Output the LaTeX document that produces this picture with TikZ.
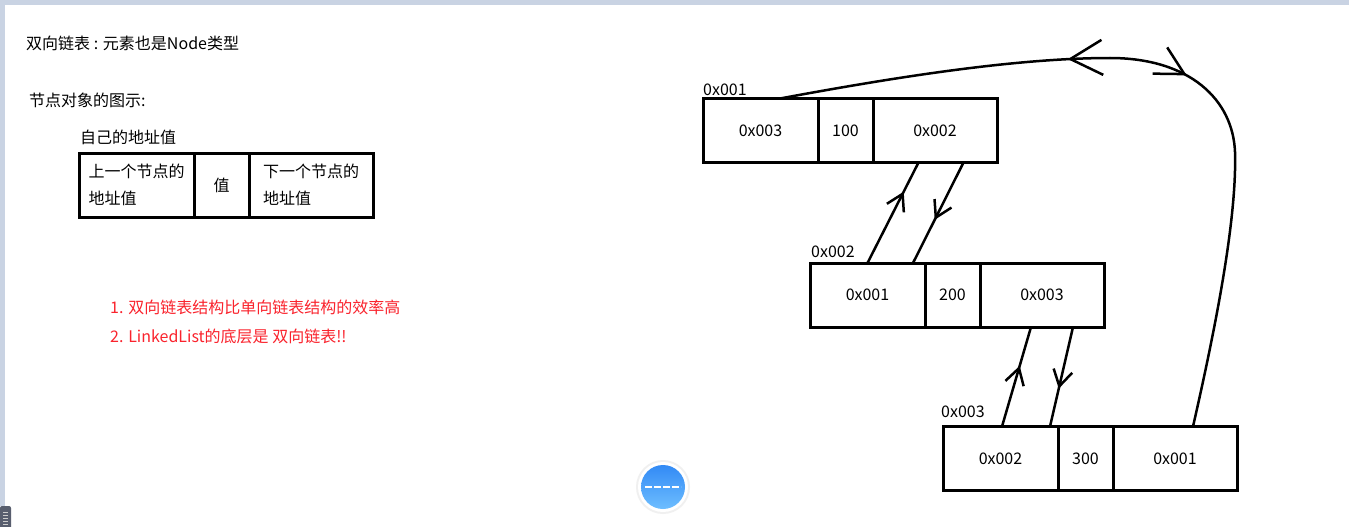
\documentclass[tikz,border=0pt]{standalone}
\usepackage{fontspec}
\setmainfont{Noto Sans CJK SC}
\usetikzlibrary{positioning}
\usetikzlibrary {arrows.meta}
\usetikzlibrary{decorations.markings}
\definecolor{notered}{RGB}{250,35,45}
\definecolor{framegray}{RGB}{201,211,227}
\definecolor{bardark}{RGB}{88,94,110}
\tikzset{cell/.style={rectangle,draw=black,fill=white,line width=3pt,
inner sep=0pt,outer sep=0pt,minimum height=64pt,align=left,
font=\fontsize{16pt}{27pt}\selectfont}}
\tikzset{prevcell/.style={cell,minimum width=115pt}}
\tikzset{valcell/.style={cell,minimum width=55pt}}
\tikzset{nextcell/.style={cell,minimum width=124pt}}
\tikzset{plain/.style={inner sep=0pt,anchor=west,font=\fontsize{16pt}{19pt}\selectfont}}
\tikzset{addr/.style={inner sep=0pt,anchor=south west,font=\fontsize{16pt}{19pt}\selectfont}}
\tikzset{link/.style={line width=2.5pt}}
\tikzset{midtip/.style={postaction={decorate},decoration={markings,
mark=at position #1 with {\arrow{Straight Barb[length=16pt,width=19pt]}}}}}

\begin{document}
\begin{tikzpicture}[x=1pt,y=-1pt]
    \useasboundingbox (0,0) rectangle (1349,527);
    \fill[white] (0,0) rectangle (1349,527);
    \fill[framegray] (0,0) rectangle (1349,5);
    \fill[framegray] (0,0) rectangle (5,506);
    \fill[bardark,rounded corners=2pt] (0,506) rectangle (11,530);
    \foreach \y in {512,515,...,524} \draw[gray!40,line width=0.8pt] (3,\y) -- (8,\y);

    % legend on the left
    \node[plain] (title) at (26,43) {双向链表 : 元素也是Node类型};
    \node[plain] (legend) at (29,100) {节点对象的图示:};
    \node[plain] (selfaddr) at (80,137) {自己的地址值};

    \node[prevcell] (tblA) at (136.5,185) {上一个节点的\\地址值};
    \node[valcell] (tblAval) [right=0pt of tblA] {值};
    \node[nextcell] (tblAnext) [right=0pt of tblAval] {下一个节点的\\地址值};

    \node[plain,text=notered] (noteA) at (110,307) {1. 双向链表结构比单向链表结构的效率高};
    \node[plain,text=notered] (noteB) at (110,336) {2. LinkedList的底层是 双向链表!!};

    % the three nodes of the list
    \node[prevcell] (boxA) at (760.5,130.5) {0x003};
    \node[valcell] (boxAval) [right=0pt of boxA] {100};
    \node[nextcell] (boxAnext) [right=0pt of boxAval] {0x002};
    \node[addr] (boxAaddr) at ([yshift=3pt]boxA.north west) {0x001};

    \node[prevcell] (boxB) at (867.5,295) {0x001};
    \node[valcell] (boxBval) [right=0pt of boxB] {200};
    \node[nextcell] (boxBnext) [right=0pt of boxBval] {0x003};
    \node[addr] (boxBaddr) at ([yshift=5pt,xshift=1pt]boxB.north west) {0x002};

    \node[prevcell] (boxC) at (1000.5,458.5) {0x002};
    \node[valcell] (boxCval) [right=0pt of boxC] {300};
    \node[nextcell] (boxCnext) [right=0pt of boxCval] {0x001};
    \node[addr] (boxCaddr) at ([yshift=9pt,xshift=-2pt]boxC.north west) {0x003};

    \draw[link,midtip=0.71] (boxB.north) -- ([xshift=-16.5pt]boxAnext.south);
    \draw[link,midtip=0.57] ([xshift=28.5pt]boxAnext.south) -- ([xshift=45.5pt]boxB.north);
    \draw[link,midtip=0.61] ([xshift=1.5pt]boxC.north) -- ([xshift=-11pt]boxBnext.south);
    \draw[link,midtip=0.62] ([xshift=31pt]boxBnext.south) -- ([xshift=49.5pt]boxC.north);

    % the link from the last node back to the first
    \draw[link,postaction={decorate},decoration={markings,
        mark=at position 0.475 with {\arrowreversed{Straight Barb[length=28pt,width=30pt]}},
        mark=at position 0.63 with {\arrow{Straight Barb[length=32pt,width=35pt]}}}]
        ([xshift=18pt]boxCnext.north) .. controls (1215,330) and (1237,220) .. (1235,152)
        .. controls (1233,100) and (1190,58) .. (1110,58)
        .. controls (1010,58) and (880,80) .. ([xshift=19.5pt]boxA.north);

    % floating button
    \fill[gray!12] (663,487) circle[radius=27pt];
    \fill[white] (663,487) circle[radius=25pt];
    \shade[bottom color={rgb,255:red,110;green,190;blue,255},top color={rgb,255:red,50;green,138;blue,245}]
        (663,487) circle[radius=22pt];
    \draw[white,line width=1.5pt,dash pattern=on 7pt off 2pt] (645,487) -- (681,487);
\end{tikzpicture}
\end{document}
